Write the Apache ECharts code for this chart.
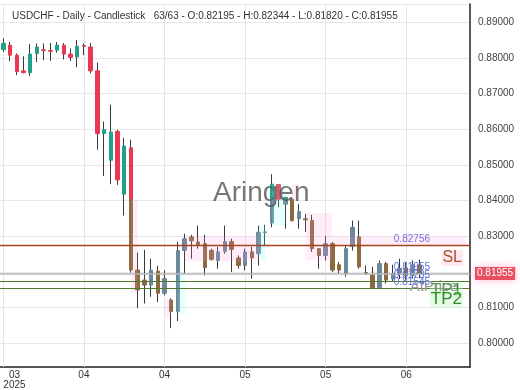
<!DOCTYPE html>
<html><head><meta charset="utf-8">
<script src="https://cdn.jsdelivr.net/npm/echarts@6/dist/echarts.min.js"></script>
<style>html,body{margin:0;padding:0;background:#fff}#c{width:520px;height:390px}</style>
</head><body><div id="c"></div>
<script>
// ---------- data ----------
const dates = [
'2025-03-17','2025-03-18','2025-03-19','2025-03-20','2025-03-21',
'2025-03-24','2025-03-25','2025-03-26','2025-03-27','2025-03-28',
'2025-03-31','2025-04-01','2025-04-02','2025-04-03','2025-04-04',
'2025-04-07','2025-04-08','2025-04-09','2025-04-10','2025-04-11',
'2025-04-14','2025-04-15','2025-04-16','2025-04-17','2025-04-18',
'2025-04-21','2025-04-22','2025-04-23','2025-04-24','2025-04-25',
'2025-04-28','2025-04-29','2025-04-30','2025-05-01','2025-05-02',
'2025-05-05','2025-05-06','2025-05-07','2025-05-08','2025-05-09',
'2025-05-12','2025-05-13','2025-05-14','2025-05-15','2025-05-16',
'2025-05-19','2025-05-20','2025-05-21','2025-05-22','2025-05-23',
'2025-05-26','2025-05-27','2025-05-28','2025-05-29','2025-05-30',
'2025-06-02','2025-06-03','2025-06-04','2025-06-05','2025-06-06',
'2025-06-09','2025-06-10','2025-06-11'];
const futureDates = ['2025-06-12','2025-06-13','2025-06-16','2025-06-17','2025-06-18','2025-06-19','2025-06-20'];
const opens = [0.8824,0.8836,0.8808,0.8764,0.8759,0.8813,0.8823,0.8821,0.8822,0.8836,
0.8811,0.8803,0.8835,0.8831,0.8764,0.8588,0.8513,0.8594,0.8418,0.8548,
0.8205,0.8177,0.8163,0.8202,0.8140,0.8121,0.8089,0.8260,0.8298,0.8284,
0.8279,0.8260,0.8232,0.8257,0.8285,0.8239,0.8218,0.8256,0.8251,0.8310,
0.8337,0.8445,0.8390,0.8404,0.8349,0.8349,0.8344,0.8265,0.8246,0.8279,
0.8220,0.8196,0.8271,0.8298,0.8198,0.8191,0.8155,0.8223,0.8180,0.8195,
0.8210,0.8190,0.82195];
const highs = [0.8855,0.8845,0.8813,0.8805,0.8839,0.8841,0.8841,0.8842,0.8845,0.8842,
0.8827,0.8850,0.8841,0.8842,0.8787,0.8622,0.8669,0.8599,0.8576,0.8571,
0.8254,0.8262,0.8237,0.8217,0.8204,0.8126,0.8284,0.8307,0.8304,0.8330,
0.8304,0.8265,0.8270,0.8330,0.8293,0.8246,0.8265,0.8270,0.8330,0.8332,
0.8474,0.8446,0.8410,0.8409,0.8390,0.8362,0.8360,0.8265,0.8300,0.8284,
0.8228,0.8274,0.8344,0.8344,0.8218,0.8214,0.8232,0.8228,0.8220,0.8237,
0.8228,0.8232,0.82344];
const lows = [0.8817,0.8791,0.8752,0.8757,0.8750,0.8789,0.8794,0.8792,0.8815,0.8796,
0.8792,0.8774,0.8808,0.8757,0.8543,0.8469,0.8446,0.8444,0.8358,0.8198,
0.8098,0.8111,0.8130,0.8115,0.8134,0.8042,0.8062,0.8196,0.8237,0.8265,
0.8190,0.8232,0.8209,0.8251,0.8200,0.8209,0.8204,0.8181,0.8218,0.8273,
0.8325,0.8382,0.8321,0.8341,0.8321,0.8312,0.8256,0.8209,0.8232,0.8200,
0.8196,0.8186,0.8260,0.8209,0.8191,0.8154,0.8154,0.8167,0.8172,0.8180,
0.8178,0.8181,0.81820];
const closes = [0.8841,0.8808,0.8762,0.8759,0.8811,0.8831,0.8821,0.8819,0.8836,0.8811,
0.8802,0.8833,0.8833,0.8764,0.8588,0.8599,0.8592,0.8458,0.8553,0.8205,
0.8149,0.8163,0.8205,0.8140,0.8181,0.8089,0.8260,0.8293,0.8287,0.8276,
0.8212,0.8235,0.8256,0.8285,0.8263,0.8218,0.8256,0.8239,0.8311,0.8312,
0.8446,0.8404,0.8409,0.8344,0.8369,0.8346,0.8265,0.8246,0.8279,0.8205,
0.8205,0.8265,0.8325,0.8214,0.8196,0.8155,0.8223,0.8177,0.8195,0.8210,
0.8190,0.8220,0.81955];

// trade levels
const levelNames = ['SL', 'AtPrice', 'TP1', 'TP2'];
const levelValues = [0.82756, 0.81955, 0.81735, 0.81545];

// shaded zones: [start index, end index, upper price, lower price]
const pinkZones = [[19,20,0.8404,0.8140],[24,25,0.8125,0.8070],[27,38,0.8300,0.8230],
                   [43,44,0.8446,0.8400],[45,49,0.8365,0.8232],[49,69,0.8300,0.8276]];
const cyanZones = [[26,27,0.8200,0.8080],[38,39,0.8330,0.8230],[40,42,0.8446,0.8330]];

// x-axis label positions (every 12 sessions)
const xLabelIndices = [0, 12, 24, 36, 48, 60];

// ---------- chart ----------
const FONT = '"Liberation Sans", Arial, sans-serif';
const SPLIT = 0.8404; // below this level the candles are drawn muted
const CLEAR = 'rgba(0,0,0,0)';
const allDates = dates.concat(futureDates);
const n = dates.length;

const wickData = allDates.map((d, i) => i < n ? [opens[i], closes[i], lows[i], highs[i]] : '-');
const brightData = [], mutedData = [];
allDates.forEach((d, i) => {
  if (i >= n) { brightData.push('-'); mutedData.push('-'); return; }
  const o = opens[i], c = closes[i];
  const lo = Math.min(o, c), hi = Math.max(o, c), up = c >= o;
  if (hi > SPLIT) {
    const b = Math.max(lo, SPLIT);
    brightData.push(up ? [b, hi, b, hi] : [hi, b, b, hi]);
  } else brightData.push('-');
  if (lo < SPLIT) {
    const t = Math.min(hi, SPLIT);
    mutedData.push(up ? [lo, t, lo, t] : [t, lo, lo, t]);
  } else mutedData.push('-');
});

const fmt = v => v.toFixed(5);
const last = n - 1;
const titleText = 'USDCHF - Daily - Candlestick   ' + n + '/' + n + ' - O:' + fmt(opens[last]) +
  ' - H:' + fmt(highs[last]) + ' - L:' + fmt(lows[last]) + ' - C:' + fmt(closes[last]);

const levelLineColors = ['#a3441a', '#b4b4b4', '#4f7a30', '#4f7a30'];
const levelLineWidths = [1.3, 1.5, 1, 1];
const levelNameColors = ['#a5532d', '#9a9a9a', '#2f8a2a', '#2f8a2a'];
const levelNameSizes = [16, 15, 17, 17];
const levelNameDist = [[7, 5], [11, 6], [7, 1], [7, 3]];
const levelNameBg = ['rgba(255,205,225,0.45)', CLEAR, 'rgba(205,245,205,0.35)', 'rgba(205,245,205,0.5)'];
const levelValueColors = ['#7a70d6', '#5a72e0', '#5a72e0', '#5a72e0'];
const nameOrder = [0, 2, 3, 1]; // AtPrice text drawn last, on top

const levelMarks = [];
levelValues.forEach((v, k) => {
  levelMarks.push({
    yAxis: v,
    lineStyle: { color: levelLineColors[k], width: levelLineWidths[k], type: 'solid' }
  });
});
const nameMarks = nameOrder.map(k => ({
  yAxis: levelValues[k],
  label: { show: true, position: 'insideEndBottom', formatter: levelNames[k],
    color: levelNameColors[k], fontSize: levelNameSizes[k], fontFamily: FONT,
    distance: levelNameDist[k], backgroundColor: levelNameBg[k], padding: [0, 1] }
}));
const valueMarks = levelValues.map((v, k) => ({
  yAxis: v,
  label: { show: true, position: 'insideEndTop', formatter: fmt(v),
    color: levelValueColors[k], fontSize: 10, fontFamily: FONT, distance: [40, 1] }
}));
valueMarks.push({
  yAxis: closes[last],
  label: { show: true, position: 'end', formatter: fmt(closes[last]), color: '#fff',
    backgroundColor: '#e8505f', padding: [2, 2, 1, 2], fontSize: 10, fontFamily: FONT,
    distance: [5, 0], shadowColor: 'rgba(255,150,200,0.7)', shadowBlur: 8 }
});

const zoneItems = [];
pinkZones.forEach(z => zoneItems.push([
  { xAxis: allDates[z[0]], yAxis: z[2], itemStyle: { color: 'rgba(255,150,215,0.16)' } },
  { xAxis: allDates[z[1]], yAxis: z[3] }]));
cyanZones.forEach(z => zoneItems.push([
  { xAxis: allDates[z[0]], yAxis: z[2], itemStyle: { color: 'rgba(120,255,240,0.2)' } },
  { xAxis: allDates[z[1]], yAxis: z[3] }]));

const chart = echarts.init(document.getElementById('c'), null, { renderer: 'canvas' });
chart.setOption({
  animation: false,
  backgroundColor: '#fff',
  textStyle: { fontFamily: FONT },
  title: { text: titleText, left: 7, top: 6,
    textStyle: { fontSize: 10, fontWeight: 'normal', color: '#333', fontFamily: FONT } },
  grid: { left: 0, right: 50, top: 4, bottom: 21 },
  xAxis: {
    type: 'category', data: allDates, boundaryGap: true,
    axisLine: { show: true, lineStyle: { color: '#222', width: 1.5 } },
    axisTick: { show: false },
    splitLine: { show: false },
    axisLabel: {
      interval: 11, margin: 3, fontSize: 10, color: '#333', lineHeight: 10,
      alignMinLabel: 'left',
      formatter: (val, idx) => idx === 0 ? '{c|' + val.slice(5, 7) + '}\n{c|' + val.slice(0, 4) + '}' : val.slice(5, 7),
      rich: { c: { align: 'center', fontSize: 10, color: '#333', lineHeight: 10, fontFamily: FONT } }
    }
  },
  yAxis: {
    type: 'value', position: 'right', scale: true,
    min: 0.79330, max: 0.89516, splitNumber: 10,
    axisLine: { show: true, lineStyle: { color: '#222', width: 1.5 } },
    axisTick: { show: false },
    axisLabel: { margin: 8, fontSize: 10, color: '#444', formatter: fmt,
      showMinLabel: false, showMaxLabel: false },
    splitLine: { show: true, lineStyle: { color: '#e8e8e8', width: 1 } }
  },
  series: [
    { name: 'wick', type: 'candlestick', data: wickData, barWidth: 1, z: 2,
      itemStyle: { color: '#3a3a3a', color0: '#3a3a3a', borderColor: '#3a3a3a', borderColor0: '#3a3a3a',
        borderColorDoji: '#3a3a3a', borderWidth: 1 },
      markLine: { silent: true, symbol: 'none', z: 1, animation: false, precision: 5,
        label: { show: false },
        lineStyle: { color: '#e6e6e6', width: 1, type: 'solid' },
        data: xLabelIndices.map(i => ({ xAxis: allDates[i] })) } },
    { name: 'body', type: 'candlestick', data: brightData, barWidth: 4, z: 3,
      itemStyle: { color: '#21a188', color0: '#ec3750', borderColor: '#21a188', borderColor0: '#ec3750', borderWidth: 1 } },
    { name: 'bodyMuted', type: 'candlestick', data: mutedData, barWidth: 4, z: 3,
      itemStyle: { color: '#6d879b', color0: '#8c6a40', borderColor: '#6d879b', borderColor0: '#8c6a40', borderWidth: 1 } },
    { name: 'zones', type: 'line', data: [], z: 4,
      markArea: { silent: true, z: 4, data: zoneItems } },
    { name: 'levels', type: 'line', data: [], z: 5,
      markLine: { silent: true, symbol: 'none', z: 5, animation: false, precision: 5,
        label: { show: false }, data: levelMarks } },
    { name: 'levelNames', type: 'line', data: [], z: 6,
      markLine: { silent: true, symbol: 'none', z: 6, animation: false, precision: 5,
        lineStyle: { color: CLEAR, width: 1, type: 'solid' }, data: nameMarks } },
    { name: 'levelValues', type: 'line', data: [], z: 7,
      markLine: { silent: true, symbol: 'none', z: 7, animation: false, precision: 5,
        lineStyle: { color: CLEAR, width: 1, type: 'solid' }, data: valueMarks } }
  ],
  graphic: [{
    type: 'text', left: 213, top: 179, z: 100, silent: true,
    style: { text: 'Aringen', fontSize: 28, fontFamily: FONT, fill: 'rgba(85,85,85,0.8)' }
  }]
});
</script></body></html>
